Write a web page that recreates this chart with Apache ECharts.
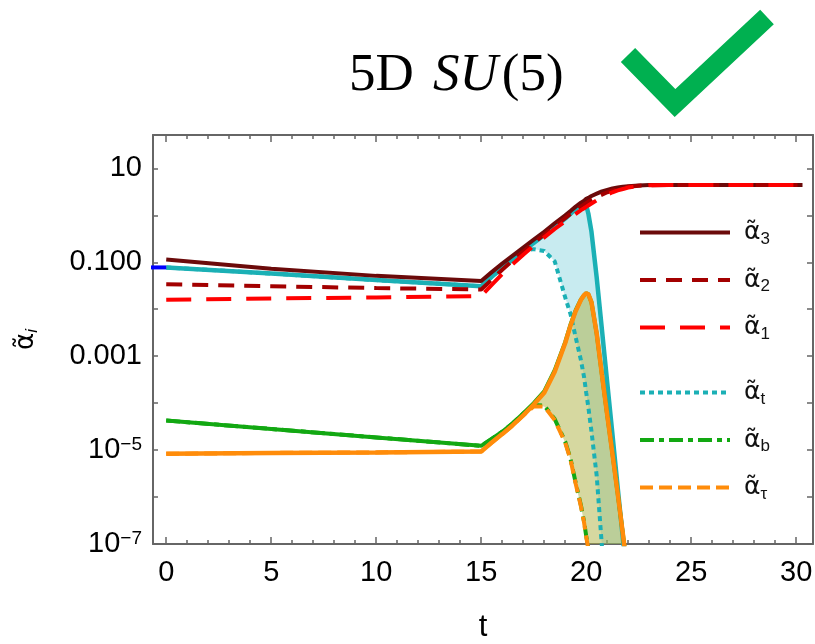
<!DOCTYPE html>
<html><head><meta charset="utf-8">
<script src="https://cdn.jsdelivr.net/npm/echarts@6/dist/echarts.min.js"></script>
<style>html,body{margin:0;padding:0;background:#fff}#c{width:815px;height:644px}</style>
</head><body><div id="c"></div>
<script>
// ---- data (y values are log10 of alpha) ----
const tGrid = [0, 5, 10, 15, 15.5, 16, 16.5, 17, 17.5, 18, 18.5, 19, 19.25, 19.5, 19.75, 19.9, 20, 20.1, 20.25, 20.5, 20.75, 21, 21.25, 21.5, 21.75, 22, 22.5, 23, 24, 26, 28, 30.3];
const log10Alpha3 = [-0.94, -1.14, -1.29, -1.40, -1.21, -1.03, -0.86, -0.69, -0.52, -0.35, -0.17, 0.00, 0.09, 0.185, 0.27, 0.31, 0.35, 0.37, 0.41, 0.46, 0.51, 0.54, 0.57, 0.59, 0.61, 0.62, 0.635, 0.645, 0.645, 0.645, 0.645, 0.645];
const log10Alpha2 = [-1.47, -1.51, -1.55, -1.58, -1.37, -1.16, -0.96, -0.77, -0.59, -0.41, -0.23, -0.06, 0.03, 0.11, 0.19, 0.23, 0.26, 0.29, 0.33, 0.39, 0.44, 0.49, 0.53, 0.56, 0.59, 0.61, 0.63, 0.64, 0.645, 0.645, 0.645, 0.645];
const log10Alpha1 = [-1.80, -1.77, -1.75, -1.72, -1.48, -1.25, -1.04, -0.84, -0.65, -0.47, -0.29, -0.13, -0.05, 0.03, 0.11, 0.15, 0.18, 0.21, 0.25, 0.32, 0.38, 0.44, 0.49, 0.53, 0.56, 0.59, 0.62, 0.64, 0.645, 0.645, 0.645, 0.645];
const log10AlphaTopUpper = [-1.11, -1.24, -1.38, -1.51, -1.31, -1.12, -0.94, -0.76, -0.59, -0.42, -0.25, -0.07, 0.03, 0.13, 0.23, 0.28, 0.22, 0.04, -0.35, -1.33, -2.44, -3.56, -4.67, -5.8, -6.9, -8.0, null, null, null, null, null, null];
const log10AlphaTopLower = [-1.11, -1.24, -1.38, -1.51, -1.31, -1.12, -0.94, -0.76, -0.72, -0.76, -0.98, -1.75, -2.1, -2.6, -3.09, -3.45, -3.78, -4.08, -4.6, -5.55, -7.06, -8.8, null, null, null, null, null, null, null, null, null, null];
const log10AlphaBotUpper = [-4.37, -4.55, -4.73, -4.91, -4.76, -4.61, -4.43, -4.22, -4.00, -3.75, -3.30, -2.70, -2.33, -2.02, -1.79, -1.70, -1.66, -1.68, -1.85, -2.52, -3.40, -4.25, -5.08, -5.93, -6.8, -7.7, null, null, null, null, null, null];
const log10AlphaBotLower = [-4.37, -4.55, -4.73, -4.91, -4.76, -4.61, -4.43, -4.22, -4.04, -4.05, -4.34, -4.82, -5.18, -5.70, -6.18, -6.53, -6.83, -7.08, -7.58, null, null, null, null, null, null, null, null, null, null, null, null, null];
const log10AlphaTauUpper = [-5.08, -5.06, -5.05, -5.03, -4.84, -4.66, -4.47, -4.26, -4.03, -3.78, -3.33, -2.72, -2.35, -2.04, -1.80, -1.70, -1.66, -1.68, -1.85, -2.52, -3.40, -4.25, -5.08, -5.93, -6.8, -7.7, null, null, null, null, null, null];
const log10AlphaTauLower = [-5.08, -5.06, -5.05, -5.03, -4.84, -4.66, -4.47, -4.26, -4.07, -4.07, -4.36, -4.84, -5.2, -5.72, -6.2, -6.55, -6.85, -7.1, -7.6, null, null, null, null, null, null, null, null, null, null, null, null, null];
const blueMarkT = [-0.75, 0];
const blueMarkLog10 = [-1.11, -1.11];
const bandStartIndex = 7, bandEndIndex = 25;

// ---- axes ----
const X_MIN = -0.63, X_MAX = 30.8, Y_MIN = -7, Y_MAX = 1.71;
const xMajorTicks = [0, 5, 10, 15, 20, 25, 30];
const xMinorTicks = [0,1,2,3,4,5,6,7,8,9,10,11,12,13,14,15,16,17,18,19,20,21,22,23,24,25,26,27,28,29,30];
const yTicks = [-7, -6, -5, -4, -3, -2, -1, 0, 1];
const yLabelExps = [-7, -5, -3, -1, 1];
const yLabelTexts = ['10{sup|−7}', '10{sup|−5}', '0.001', '0.100', '10'];

const SANS = 'Liberation Sans, Arial, sans-serif';
const GREEK = 'DejaVu Sans, Liberation Sans, sans-serif';
const SERIF = 'Liberation Serif, Times New Roman, serif';
const FRAME = '#666666';

function lineSeries(name, vals, color, dash, z, w) {
  return {
    type: 'line', name: name, symbol: 'none', showSymbol: false, z: z, silent: true,
    data: tGrid.map((t, i) => [t, vals[i]]),
    lineStyle: { color: color, width: w || 4, type: dash, cap: 'butt' },
    itemStyle: { color: color },
    animation: false
  };
}
function bandSeries(upper, lower, fill) {
  return {
    type: 'custom', silent: true, z: 1, clip: true, animation: false,
    data: [[tGrid[bandStartIndex], upper[bandStartIndex]]],
    renderItem: function (params, api) {
      const pts = [];
      for (let i = bandStartIndex; i <= bandEndIndex; i++) pts.push(api.coord([tGrid[i], upper[i]]));
      for (let i = bandEndIndex; i >= bandStartIndex; i--) pts.push(api.coord([tGrid[i], lower[i] == null ? Y_MIN - 2 : lower[i]]));
      const cs = params.coordSys;
      return {
        type: 'group',
        clipPath: { type: 'rect', shape: { x: cs.x, y: cs.y, width: cs.width, height: cs.height } },
        children: [{ type: 'polygon', shape: { points: pts }, style: { fill: fill } }]
      };
    }
  };
}

const legendRich = {
  a: { fontFamily: GREEK, fontSize: 25, lineHeight: 30, color: '#111', padding: [0, 0, 0, 9] },
  s: { fontFamily: SANS, fontSize: 17, lineHeight: 17, color: '#111', verticalAlign: 'bottom' }
};
const legendFmt = name => '{a|' + name.slice(0, 2) + '}{s|' + name.slice(2) + '}';

function legendBox(names, top) {
  return {
    data: names, orient: 'vertical', left: 638, top: top, padding: 0,
    itemWidth: 90, itemHeight: 14, itemGap: 20, selectedMode: false,
    itemStyle: { opacity: 0 },
    lineStyle: { width: 4 },
    formatter: legendFmt, textStyle: { rich: legendRich }
  };
}

const chart = echarts.init(document.getElementById('c'), null, { renderer: 'canvas' });
chart.setOption({
  animation: false,
  backgroundColor: '#fff',
  title: {
    text: '5D {i|SU}(5)', left: 349, top: 50, padding: 0,
    textStyle: { fontFamily: SERIF, fontSize: 53, fontWeight: 'normal', color: '#000',
      rich: { i: { fontFamily: SERIF, fontSize: 53, fontStyle: 'italic', color: '#000', padding: [0, 4, 0, 6] } } }
  },
  graphic: [{
    type: 'polyline', shape: { points: [[628, 55], [675, 103], [767, 17]] },
    style: { stroke: '#00B050', lineWidth: 20, fill: null, lineJoin: 'miter', lineCap: 'butt' }
  }],
  grid: { left: 153, right: 2, top: 135, bottom: 100, containLabel: false, outerBoundsMode: 'none' },
  legend: [legendBox(['α̃3', 'α̃2', 'α̃1'], 220), legendBox(['α̃t', 'α̃b', 'α̃τ'], 380)],
  xAxis: [
    { type: 'value', position: 'bottom', min: X_MIN, max: X_MAX,
      name: 't', nameLocation: 'middle', nameGap: 68,
      nameTextStyle: { fontFamily: SANS, fontSize: 31, color: '#000' },
      axisLine: { show: true, onZero: false, lineStyle: { color: FRAME, width: 2 } },
      axisTick: { show: true, inside: true, length: 7, customValues: xMajorTicks, lineStyle: { color: FRAME, width: 1.5 } },
      axisLabel: { show: true, customValues: xMajorTicks, fontFamily: SANS, fontSize: 29, color: '#000', margin: 14 },
      splitLine: { show: false } },
    { type: 'value', position: 'bottom', min: X_MIN, max: X_MAX,
      axisLine: { show: false, onZero: false },
      axisTick: { show: true, inside: true, length: 4, customValues: xMinorTicks, lineStyle: { color: FRAME, width: 1.5 } },
      axisLabel: { show: false }, splitLine: { show: false } },
    { type: 'value', position: 'top', min: X_MIN, max: X_MAX,
      axisLine: { show: true, onZero: false, lineStyle: { color: FRAME, width: 2 } },
      axisTick: { show: true, inside: true, length: 7, customValues: xMajorTicks, lineStyle: { color: FRAME, width: 1.5 } },
      axisLabel: { show: false }, splitLine: { show: false } },
    { type: 'value', position: 'top', min: X_MIN, max: X_MAX,
      axisLine: { show: false, onZero: false },
      axisTick: { show: true, inside: true, length: 4, customValues: xMinorTicks, lineStyle: { color: FRAME, width: 1.5 } },
      axisLabel: { show: false }, splitLine: { show: false } }
  ],
  yAxis: [
    { type: 'value', position: 'left', min: Y_MIN, max: Y_MAX,
      name: '{a|α̃}{s|i}', nameLocation: 'middle', nameRotate: 90, nameGap: 112,
      nameTextStyle: { rich: {
        a: { fontFamily: GREEK, fontSize: 26, lineHeight: 30, color: '#000' },
        s: { fontFamily: SANS, fontSize: 17, lineHeight: 17, fontStyle: 'italic', color: '#000', verticalAlign: 'bottom' } } },
      axisLine: { show: true, onZero: false, lineStyle: { color: FRAME, width: 2 } },
      axisTick: { show: true, inside: true, length: 5, customValues: yTicks, lineStyle: { color: FRAME, width: 1.5 } },
      axisLabel: { show: true, customValues: yLabelExps, margin: 11, fontFamily: SANS, fontSize: 29, color: '#000',
        formatter: v => { const k = yLabelExps.indexOf(Math.round(v)); return k >= 0 ? yLabelTexts[k] : ''; },
        rich: { sup: { fontFamily: SANS, fontSize: 19, color: '#000', verticalAlign: 'top' } } },
      splitLine: { show: false } },
    { type: 'value', position: 'right', min: Y_MIN, max: Y_MAX,
      axisLine: { show: true, onZero: false, lineStyle: { color: FRAME, width: 2 } },
      axisTick: { show: true, inside: true, length: 6, customValues: yTicks, lineStyle: { color: FRAME, width: 1.5 } },
      axisLabel: { show: false }, splitLine: { show: false } }
  ],
  series: [
    bandSeries(log10AlphaTopUpper, log10AlphaTopLower, 'rgba(72,188,205,0.3)'),
    bandSeries(log10AlphaBotUpper, log10AlphaTauLower, 'rgba(173,177,65,0.5)'),
    lineSeries('α̃t', log10AlphaTopLower, '#1BB0B5', [5, 4], 3),
    lineSeries('α̃b', log10AlphaBotLower, '#12A812', [14, 5, 5, 5], 3),
    lineSeries('α̃τ', log10AlphaTauLower, '#FF8C0A', [13, 6], 3),
    lineSeries('αtU', log10AlphaTopUpper, '#1BB0B5', 'solid', 4, 4.5),
    lineSeries('αbU', log10AlphaBotUpper, '#12A812', 'solid', 4),
    lineSeries('ατU', log10AlphaTauUpper, '#FF8C0A', 'solid', 4, 4.5),
    lineSeries('α̃3', log10Alpha3, '#6B0A0A', 'solid', 5),
    lineSeries('α̃2', log10Alpha2, '#A30000', [16, 10], 5),
    lineSeries('α̃1', log10Alpha1, '#FF0000', [25, 15], 5),
    { type: 'line', name: 'mark', symbol: 'none', z: 6, silent: true, clip: false,
      data: blueMarkT.map((t, i) => [t, blueMarkLog10[i]]),
      lineStyle: { color: '#0000FF', width: 4 } }
  ]
});
</script></body></html>
